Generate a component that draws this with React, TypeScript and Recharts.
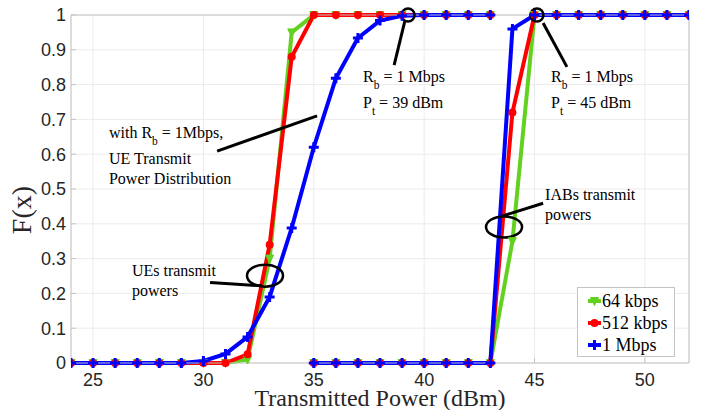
import React from "react";
import {
  LineChart,
  Line,
  XAxis,
  YAxis,
  CartesianGrid,
  Legend,
  ReferenceLine,
  ReferenceDot,
  Label,
} from "recharts";

// UE group (left) and IAB group (right) share the same three rates
const uePower = [24, 25, 26, 27, 28, 29, 30, 31, 32, 33, 34, 35, 36, 37, 38, 39, 40, 41, 42, 43];
const ue64 = [0, 0, 0, 0, 0, 0, 0, 0, 0.01, 0.3, 0.95, 1, 1, 1, 1, 1, 1, 1, 1, 1];
const ue512 = [0, 0, 0, 0, 0, 0, 0, 0, 0.025, 0.34, 0.88, 1, 1, 1, 1, 1, 1, 1, 1, 1];
const ue1M = [0, 0, 0, 0, 0, 0, 0.006, 0.026, 0.075, 0.19, 0.388, 0.62, 0.818, 0.934, 0.984, 0.998, 1, 1, 1, 1];

const iabPower = [35, 36, 37, 38, 39, 40, 41, 42, 43, 44, 45, 46, 47, 48, 49, 50, 51, 52];
const iab64 = [0, 0, 0, 0, 0, 0, 0, 0, 0, 0.35, 1, 1, 1, 1, 1, 1, 1, 1];
const iab512 = [0, 0, 0, 0, 0, 0, 0, 0, 0, 0.72, 1, 1, 1, 1, 1, 1, 1, 1];
const iab1M = [0, 0, 0, 0, 0, 0, 0, 0, 0, 0.96, 1, 1, 1, 1, 1, 1, 1, 1];

const xTicks = [25, 30, 35, 40, 45, 50];
const yTicks = [0, 0.1, 0.2, 0.3, 0.4, 0.5, 0.6, 0.7, 0.8, 0.9, 1];

const seriesNames = ["64 kbps", "512 kbps", "1 Mbps"];
const seriesColors = ["#62d11f", "#ff0000", "#0000ff"];
const seriesMarkers = ["triangle", "circle", "plus"];
const ueValues = [ue64, ue512, ue1M];
const iabValues = [iab64, iab512, iab1M];

// annotations, anchored in data coordinates
const noteTexts = [
  { x: 25.72, y: 0.647, lines: ["with R_{b} = 1Mbps,", "UE Transmit", "Power Distribution"] },
  { x: 26.76, y: 0.251, lines: ["UEs transmit", "powers"] },
  { x: 37.23, y: 0.808, lines: ["R_{b} = 1 Mbps", "P_{t} = 39 dBm"] },
  { x: 45.75, y: 0.808, lines: ["R_{b} = 1 Mbps", "P_{t} = 45 dBm"] },
  { x: 45.48, y: 0.469, lines: ["IABs transmit", "powers"] },
];
const noteArrows = [
  [{ x: 30.62, y: 0.609 }, { x: 35.15, y: 0.71 }],
  [{ x: 30.3, y: 0.231 }, { x: 32.65, y: 0.222 }],
  [{ x: 39.13, y: 0.984 }, { x: 38.64, y: 0.856 }],
  [{ x: 45.39, y: 0.977 }, { x: 46.47, y: 0.851 }],
  [{ x: 43.53, y: 0.422 }, { x: 45.39, y: 0.459 }],
];
const noteRings = [
  { x: 32.79, y: 0.251, rx: 18, ry: 11 },
  { x: 43.62, y: 0.391, rx: 18, ry: 10.5 },
  { x: 39.27, y: 1, rx: 6.5, ry: 6.5 },
  { x: 45.11, y: 1, rx: 6.5, ry: 6.5 },
];

const SERIF = "'Liberation Serif', 'Times New Roman', serif";
const SANS = "'Liberation Sans', Arial, Helvetica, sans-serif";
const AXIS_GRAY = "#c4c4c4";

function Marker({ kind, color, cx, cy }: { kind: string; color: string; cx: number; cy: number }) {
  if (cx == null || cy == null) return null;
  if (kind === "triangle") {
    return (
      <polygon
        points={`${cx - 4},${cy - 3.5} ${cx + 4},${cy - 3.5} ${cx},${cy + 4.5}`}
        fill={color}
        stroke={color}
        strokeWidth={1}
      />
    );
  }
  if (kind === "circle") {
    return <circle cx={cx} cy={cy} r={4} fill={color} />;
  }
  return (
    <path
      d={`M${cx - 5},${cy} H${cx + 5} M${cx},${cy - 5} V${cy + 5}`}
      stroke={color}
      strokeWidth={3}
      fill="none"
    />
  );
}

const makeDot = (kind: string, color: string) => (p: any) => (
  <Marker key={`d-${p.index}`} kind={kind} color={color} cx={p.cx} cy={p.cy} />
);

// "R_{b}" -> R with subscript b
function richLine(str: string, fontSize: number) {
  const parts = str.split(/_\{(.*?)\}/);
  return parts.map((part, i) =>
    i % 2 === 1 ? (
      <tspan key={i} dy={7} fontSize={fontSize * 0.72}>
        {part}
      </tspan>
    ) : (
      <tspan key={i} dy={i > 0 ? -7 : 0}>
        {part}
      </tspan>
    )
  );
}

const NoteText = (lines: string[]) => (props: any) => {
  const { cx, cy } = props;
  let base = cy;
  const items: React.ReactNode[] = [];
  lines.forEach((ln, i) => {
    if (i > 0) base += lines[i - 1].includes("_{") ? 26 : 20;
    items.push(
      <text key={i} x={cx} y={base} fontFamily={SERIF} fontSize={16} fill="#000">
        {richLine(ln, 16)}
      </text>
    );
  });
  return <g>{items}</g>;
};

const Ring = (rx: number, ry: number) => (props: any) => (
  <ellipse cx={props.cx} cy={props.cy} rx={rx} ry={ry} fill="none" stroke="#000" strokeWidth={2.5} />
);

function LegendBox(props: any) {
  const payload = (props.payload || [])
    .filter((e: any) => e.type !== "none" && seriesNames.includes(e.value))
    .sort((a: any, b: any) => seriesNames.indexOf(a.value) - seriesNames.indexOf(b.value));
  return (
    <div
      style={{
        width: 98,
        height: 70,
        boxSizing: "border-box",
        border: `1px solid ${AXIS_GRAY}`,
        background: "#fff",
        padding: "2px 0 0 10px",
      }}
    >
      {payload.map((entry: any) => {
        const idx = seriesNames.indexOf(entry.value);
        const color = seriesColors[idx];
        return (
          <div
            key={entry.value}
            style={{
              display: "flex",
              alignItems: "center",
              height: 22,
              lineHeight: "22px",
              fontFamily: SERIF,
              fontSize: 18,
              color: "#000",
              whiteSpace: "nowrap",
            }}
          >
            <svg width={13} height={12} style={{ marginRight: 1, flex: "none" }}>
              <line x1={0} y1={6} x2={13} y2={6} stroke={color} strokeWidth={4} />
              <Marker kind={seriesMarkers[idx]} color={color} cx={6.5} cy={6} />
            </svg>
            <span>{entry.value}</span>
          </div>
        );
      })}
    </div>
  );
}

function FxLabel(props: any) {
  const { viewBox } = props;
  const cy = viewBox.y + viewBox.height / 2 + 21;
  const cx = 31;
  return (
    <text
      x={cx}
      y={cy}
      transform={`rotate(-90, ${cx}, ${cy})`}
      textAnchor="middle"
      fontFamily={SERIF}
      fontSize={28}
      fill="#262626"
    >
      F(x)
    </text>
  );
}

export default function App() {
  const tickStyle = { fill: "#262626", fontSize: 18, fontFamily: SANS };

  return (
    <div style={{ position: "absolute", left: 0, top: 0, width: 713, height: 410, background: "#fff" }}>
      <LineChart width={713} height={410} margin={{ top: 0, right: 0, bottom: 0, left: 0 }}>
        <CartesianGrid stroke="#ebebeb" strokeWidth={1} />
        <XAxis
          dataKey="x"
          type="number"
          domain={[24, 52]}
          ticks={xTicks}
          allowDataOverflow
          height={47}
          tick={tickStyle}
          tickSize={-5}
          tickMargin={15}
          axisLine={{ stroke: AXIS_GRAY }}
          tickLine={{ stroke: AXIS_GRAY }}
        >
          <Label
            value="Transmitted Power (dBm)"
            position="insideBottom"
            offset={4}
            fill="#262626"
            style={{ fontFamily: SERIF, fontSize: 24 }}
          />
        </XAxis>
        <XAxis
          xAxisId="top"
          orientation="top"
          type="number"
          domain={[24, 52]}
          ticks={xTicks}
          height={15}
          tick={false}
          tickSize={-5}
          axisLine={{ stroke: AXIS_GRAY }}
          tickLine={{ stroke: AXIS_GRAY }}
        />
        <YAxis
          type="number"
          domain={[0, 1]}
          ticks={yTicks}
          width={71}
          tick={tickStyle}
          tickSize={-5}
          tickMargin={10}
          tickFormatter={(v: number) => String(v)}
          axisLine={{ stroke: AXIS_GRAY }}
          tickLine={{ stroke: AXIS_GRAY }}
        >
          <Label content={FxLabel} />
        </YAxis>
        <YAxis
          yAxisId="right"
          orientation="right"
          type="number"
          domain={[0, 1]}
          ticks={yTicks}
          width={24}
          tick={false}
          tickSize={-5}
          axisLine={{ stroke: AXIS_GRAY }}
          tickLine={{ stroke: AXIS_GRAY }}
        />

        {seriesNames.map((name, s) => (
          <Line
            key={`ue-${name}`}
            name={name}
            data={uePower.map((x, i) => ({ x, y: ueValues[s][i] }))}
            dataKey="y"
            type="linear"
            stroke={seriesColors[s]}
            strokeWidth={4}
            dot={makeDot(seriesMarkers[s], seriesColors[s])}
            activeDot={false}
            isAnimationActive={false}
          />
        ))}
        {seriesNames.map((name, s) => (
          <Line
            key={`iab-${name}`}
            name={`${name} IAB`}
            legendType="none"
            data={iabPower.map((x, i) => ({ x, y: iabValues[s][i] }))}
            dataKey="y"
            type="linear"
            stroke={seriesColors[s]}
            strokeWidth={4}
            dot={makeDot(seriesMarkers[s], seriesColors[s])}
            activeDot={false}
            isAnimationActive={false}
          />
        ))}

        {noteArrows.map((seg, i) => (
          <ReferenceLine key={`arrow-${i}`} segment={seg} stroke="#000" strokeWidth={3} ifOverflow="visible" />
        ))}
        {noteRings.map((r, i) => (
          <ReferenceDot key={`ring-${i}`} x={r.x} y={r.y} r={1} ifOverflow="visible" shape={Ring(r.rx, r.ry)} />
        ))}
        {noteTexts.map((n, i) => (
          <ReferenceDot key={`note-${i}`} x={n.x} y={n.y} r={1} ifOverflow="visible" shape={NoteText(n.lines)} />
        ))}

        <Legend
          layout="horizontal"
          verticalAlign="middle"
          align="center"
          wrapperStyle={{ left: 577, top: 287, width: 98, height: 70 }}
          content={LegendBox}
        />
      </LineChart>
    </div>
  );
}
